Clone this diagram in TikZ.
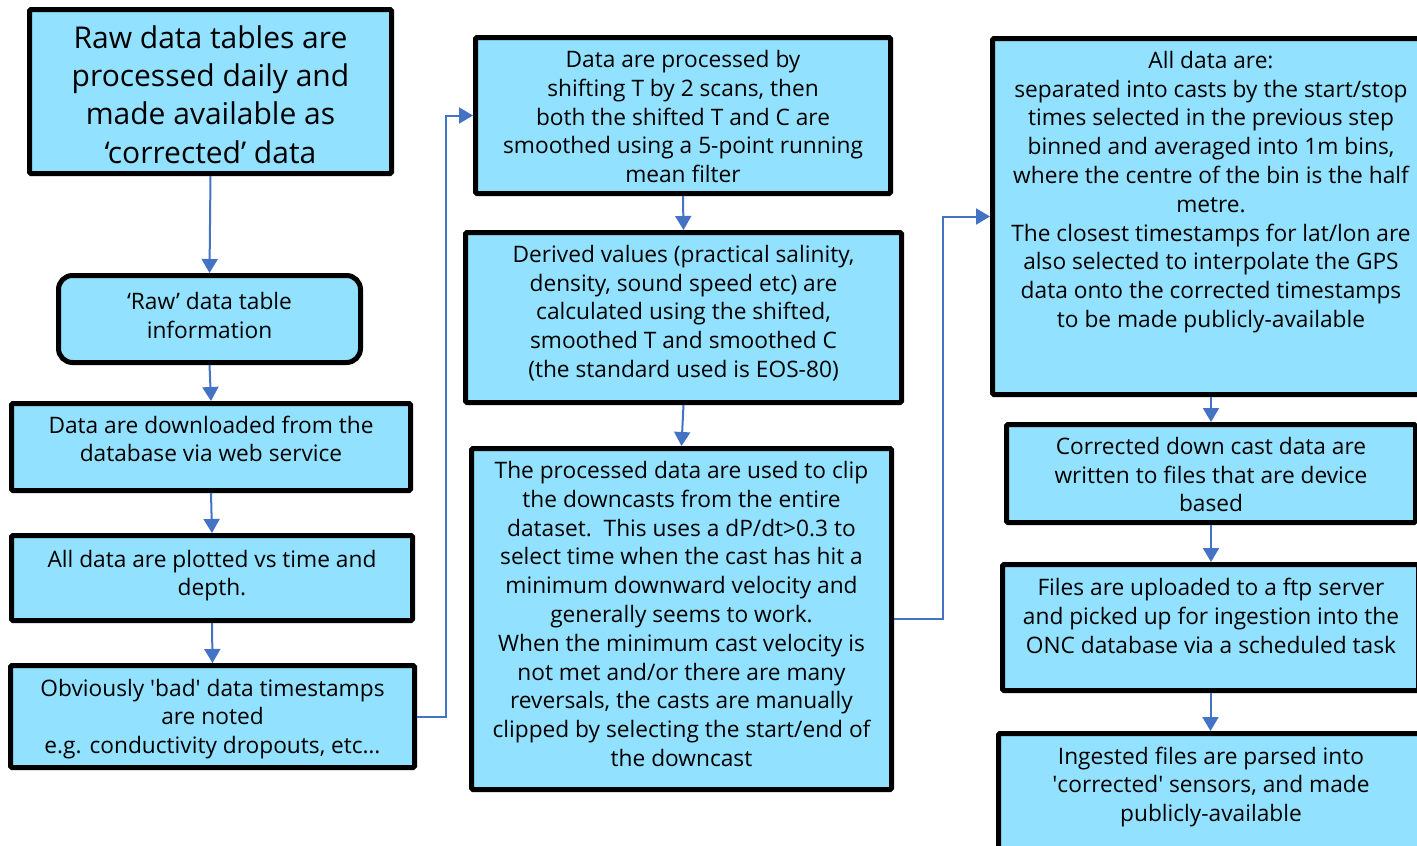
\documentclass[tikz,border=0pt]{standalone}
\usepackage{fontspec}
\setmainfont{Open Sans}
\usetikzlibrary{arrows.meta}
\definecolor{boxfill}{HTML}{91E1FF}
\definecolor{conncol}{HTML}{4472C4}
\tikzset{
  box/.style={draw=black, line width=5pt, fill=boxfill, rectangle, rounded corners=1.5pt, inner sep=0pt},
  rbox/.style={box, rounded corners=14pt},
  txt/.style={align=center, inner sep=0pt, font=\fontsize{22.7}{28.8}\selectfont},
  bigtxt/.style={align=center, inner sep=0pt, font=\fontsize{30}{38.3}\selectfont},
  conn/.style={draw=conncol, line width=2pt, -{Triangle[width=16pt,length=14pt]}},
  link/.style={draw=conncol, line width=2pt}
}
\begin{document}
\begin{tikzpicture}[x=1pt,y=-1pt]
\useasboundingbox (0,0) rectangle (1417,846);
\clip (0,0) rectangle (1417,846);
% left column
\node[box, minimum width=362pt, minimum height=164pt] (b1) at (210.5,91.5) {};
\node[bigtxt] (t1) at (210.5,94.5) {Raw data tables are\\processed daily and\\made available as\\‘corrected’ data};
\node[rbox, minimum width=302pt, minimum height=87pt] (b2) at (209.5,319) {};
\node[txt] (t2) at (209.5,315.5) {‘Raw’ data table\\information};
\node[box, minimum width=399pt, minimum height=87pt] (b3) at (211,447) {};
\node[txt] (t3) at (211,439) {Data are downloaded from the\\database via web service};
\node[box, minimum width=401pt, minimum height=85pt] (b4) at (212,578) {};
\node[txt] (t4) at (212,575.5) {All data are plotted vs time and\\depth.};
\node[box, minimum width=404pt, minimum height=102pt] (b5) at (212.5,716.5) {};
\node[txt] (t5) at (212.5,719) {Obviously \textquotesingle bad\textquotesingle{} data timestamps\\are noted\\e.g. conductivity dropouts, etc…};
% middle column
\node[box, minimum width=415pt, minimum height=156pt] (b6) at (683,115.5) {};
\node[txt] (t6) at (683,116.5) {Data are processed by\\shifting T by 2 scans, then\\both the shifted T and C are\\smoothed using a 5-point running\\mean filter};
\node[box, minimum width=436pt, minimum height=170pt] (b7) at (683.5,317.5) {};
\node[txt] (t7) at (683.5,313) {Derived values (practical salinity,\\density, sound speed etc) are\\calculated using the shifted,\\smoothed T and smoothed C\\(the standard used is EOS-80)};
\node[box, minimum width=420pt, minimum height=341pt] (b8) at (681.5,619) {};
\node[txt] (t8) at (681.5,614) {The processed data are used to clip\\the downcasts from the entire\\dataset.\ \ This uses a dP/dt>0.3 to\\select time when the cast has hit a\\minimum downward velocity and\\generally seems to work.\\When the minimum cast velocity is\\not met and/or there are many\\reversals, the casts are manually\\clipped by selecting the start/end of\\the downcast};
% right column
\node[box, minimum width=445pt, minimum height=356pt] (b9) at (1215,216.5) {};
\node[txt] (t9) at (1211,192) {All data are:\\separated into casts by the start/stop\\times selected in the previous step\\binned and averaged into 1m bins,\\where the centre of the bin is the half\\metre.\\The closest timestamps for lat/lon are\\also selected to interpolate the GPS\\data onto the corrected timestamps\\to be made publicly-available};
\node[box, minimum width=409pt, minimum height=98pt] (b10) at (1211,473.5) {};
\node[txt] (t10) at (1211,474.5) {Corrected down cast data are\\written to files that are device\\based};
\node[box, minimum width=416pt, minimum height=126pt] (b11) at (1210.5,627.5) {};
\node[txt] (t11) at (1211,616) {Files are uploaded to a ftp server\\and picked up for ingestion into the\\ONC database via a scheduled task};
\node[box, minimum width=429pt, minimum height=134pt] (b12) at (1213,800.5) {};
\node[txt] (t12) at (1211,787) {Ingested files are parsed into\\\textquotesingle corrected\textquotesingle{} sensors, and made\\publicly-available};
% connectors
\draw[conn] (b1.south) -- (b2.north);
\draw[conn] (b2.south) -- (b3.north);
\draw[conn] (b3.south) -- (b4.north);
\draw[conn] (b4.south) -- (b5.north);
\draw[conn] (b5.east) -- ++(29,0) |- (b6.west);
\draw[conn] (b6.south) -- (b7.north);
\draw[conn] (b7.south) -- (b8.north);
\draw[conn] (b8.east) -- ++(49,0) |- (b9.west);
\draw[conn] (b9.south -| b10.north) -- (b10.north);
\draw[conn] (b10.south) -- (b10.south |- b11.north);
\draw[conn] (b11.south) -- (b11.south |- b12.north);
\end{tikzpicture}
\end{document}
